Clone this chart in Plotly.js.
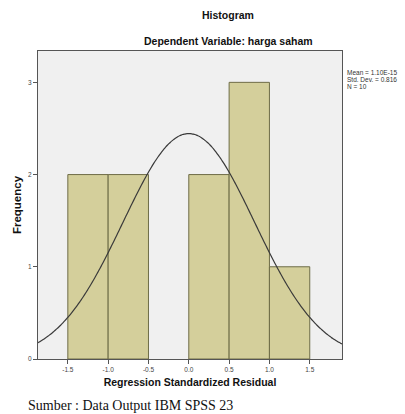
<!DOCTYPE html>
<html><head><meta charset="utf-8">
<script src="https://cdn.plot.ly/plotly-3.0.1.min.js"></script>
<style>html,body{margin:0;padding:0;background:#fff;}</style>
</head><body><div id="chart" style="width:405px;height:414px;"></div>
<script>
const binLower = [-1.5, -1.0, -0.5, 0.0, 0.5, 1.0];
const binWidth = 0.5;
const counts = [2, 2, 0, 2, 3, 1];
const xTicks = [-1.5, -1.0, -0.5, 0.0, 0.5, 1.0, 1.5];
const xTickText = ['-1.5', '-1.0', '-0.5', '0.0', '0.5', '1.0', '1.5'];
const yTicks = [0, 1, 2, 3];
const statMean = 1.10e-15;
const statSD = 0.816;
const statN = 10;
const statLines = ['Mean = 1.10E-15', 'Std. Dev. = 0.816', 'N = 10'];

// normal curve from the reported mean / sd / N
const cx = [], cy = [];
for (let i = 0; i <= 200; i++) {
  const x = -1.9 + i * (3.8 / 200);
  const z = (x - statMean) / statSD;
  cx.push(x);
  cy.push(statN * binWidth * Math.exp(-0.5 * z * z) / (statSD * Math.sqrt(2 * Math.PI)));
}

const traces = [
  {type: 'bar', x: binLower, y: counts, width: binWidth, offset: 0,
   marker: {color: '#d4cf9b', line: {color: '#6e6c47', width: counts.map(c => c > 0 ? 1 : 0)}}, hoverinfo: 'none'},
  {type: 'scatter', mode: 'lines', x: cx, y: cy,
   line: {color: '#3a3a3a', width: 1.2, shape: 'spline'}, hoverinfo: 'none'}
];

const H = 308, W = 304, L = 38, T = 51;
const py = (pix) => 1 - (pix - T) / H;
const px = (pix) => (pix - L) / W;

const annotations = [
  {text: '<b>Histogram</b>', xref: 'paper', yref: 'paper', x: px(228), y: py(15),
   xanchor: 'center', yanchor: 'middle', showarrow: false, font: {size: 10.5, color: '#111'}},
  {text: '<b>Dependent Variable: harga saham</b>', xref: 'paper', yref: 'paper', x: px(228), y: py(41),
   xanchor: 'center', yanchor: 'middle', showarrow: false, font: {size: 10.5, color: '#111'}},
  {text: 'Sumber : Data Output IBM SPSS 23', xref: 'paper', yref: 'paper', x: px(26), y: py(405),
   xanchor: 'left', yanchor: 'middle', showarrow: false,
   font: {family: 'Liberation Serif, Times New Roman, serif', size: 14, color: '#111'}}
];
const statY = [73, 79.5, 86];
statLines.forEach((s, i) => annotations.push({text: s, xref: 'paper', yref: 'paper', x: px(345), y: py(statY[i]),
  xanchor: 'left', yanchor: 'middle', showarrow: false, font: {size: 6.5, color: '#333'}}));

const layout = {
  width: 405, height: 414,
  margin: {l: 38, r: 63, t: 51, b: 55},
  paper_bgcolor: '#ffffff', plot_bgcolor: '#f0f0f0',
  showlegend: false, bargap: 0,
  font: {family: 'Arial, Liberation Sans, sans-serif', color: '#222'},
  xaxis: {range: [-1.87, 1.9], tickvals: xTicks, ticktext: xTickText,
    ticks: 'outside', ticklen: 4, tickcolor: '#555', showgrid: false, zeroline: false,
    showline: true, mirror: true, linecolor: '#555', linewidth: 1,
    tickfont: {size: 6.5, color: '#444'},
    title: {text: '<b>Regression Standardized Residual</b>', font: {size: 10.5, color: '#111'}, standoff: 6}},
  yaxis: {range: [0, 3.34], tickvals: yTicks, ticks: 'outside', ticklen: 4, tickcolor: '#555',
    showgrid: false, zeroline: false, showline: true, mirror: true, linecolor: '#555', linewidth: 1,
    tickfont: {size: 6.5, color: '#444'},
    title: {text: '<b>Frequency</b>', font: {size: 11.5, color: '#111'}, standoff: 4}},
  annotations: annotations
};

Plotly.newPlot('chart', traces, layout, {staticPlot: true, displayModeBar: false});
</script></body></html>
